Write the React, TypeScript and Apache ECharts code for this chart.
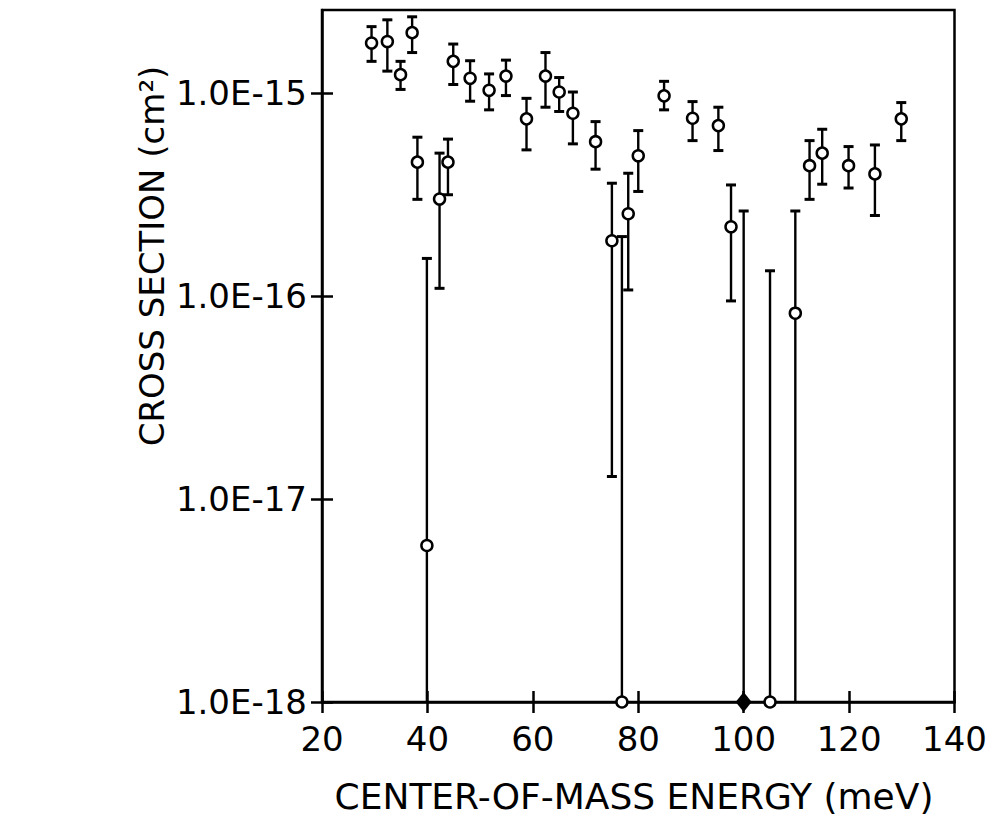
import React, { useEffect, useRef } from "react";
import * as echarts from "echarts";

// Log-axis range of the cross section (cm^2)
const AXIS_FLOOR = 1e-18;
const AXIS_TOP = 2.56e-15;

// Open-circle measurements: centre-of-mass energy (meV), cross section and error limits.
// A null lower limit means the error bar runs down past the axis floor.
const energy = [
  29.4, 32.4, 34.9, 37.1, 38.1, 39.9, 42.3, 43.9, 44.9, 48.1, 51.7, 54.9, 58.8,
  62.4, 65.0, 67.6, 71.9, 75.0, 76.9, 78.1, 80.0, 84.9, 90.3, 95.2, 97.6, 105.0,
  109.8, 112.5, 114.9, 119.9, 124.9, 129.9,
];
const sigma = [
  1.76e-15, 1.79e-15, 1.23e-15, 1.98e-15, 4.56e-16, 5.9e-18, 3.0e-16, 4.56e-16, 1.43e-15,
  1.18e-15, 1.03e-15, 1.21e-15, 7.45e-16, 1.21e-15, 1.01e-15, 7.94e-16, 5.75e-16, 1.87e-16,
  1e-18, 2.54e-16, 4.9e-16, 9.67e-16, 7.5e-16, 6.9e-16, 2.19e-16, 1e-18, 8.22e-17, 4.38e-16,
  5.05e-16, 4.38e-16, 3.99e-16, 7.45e-16,
];
const sigmaLow: (number | null)[] = [
  1.43e-15, 1.28e-15, 1.04e-15, 1.58e-15, 2.99e-16, null, 1.09e-16, 3.15e-16, 1.1e-15,
  9.1e-16, 8.25e-16, 9.7e-16, 5.24e-16, 8.5e-16, 8.1e-16, 5.61e-16, 4.21e-16, 1.29e-17,
  null, 1.07e-16, 3.27e-16, 8.25e-16, 5.82e-16, 5.2e-16, 9.45e-17, null, null, 2.99e-16,
  3.55e-16, 3.4e-16, 2.49e-16, 5.82e-16,
];
const sigmaHigh = [
  2.12e-15, 2.29e-15, 1.43e-15, 2.37e-15, 6.05e-16, 1.53e-16, 5.05e-16, 5.92e-16, 1.74e-15,
  1.44e-15, 1.24e-15, 1.45e-15, 9.4e-16, 1.58e-15, 1.19e-15, 1.01e-15, 7.22e-16, 3.59e-16,
  1.96e-16, 4.02e-16, 6.52e-16, 1.14e-15, 9.06e-16, 8.5e-16, 3.52e-16, 1.33e-16, 2.62e-16,
  5.82e-16, 6.62e-16, 5.44e-16, 5.54e-16, 8.96e-16,
];

// Filled-diamond measurement
const diamondEnergy = [100];
const diamondSigma = [1e-18];
const diamondLow: (number | null)[] = [null];
const diamondHigh = [2.62e-16];

const xTicks = [20, 40, 60, 80, 100, 120, 140];
const yTicks = [1e-18, 1e-17, 1e-16, 1e-15];

const FONT = "DejaVu Sans";

function errorRows(xs: number[], lows: (number | null)[], highs: number[]) {
  return xs.map((x, i) => [x, lows[i] ?? AXIS_FLOOR, highs[i], lows[i] == null ? 0 : 1]);
}

export default function App() {
  const ref = useRef<HTMLDivElement>(null);

  useEffect(() => {
    if (!ref.current) return;
    const chart = echarts.init(ref.current, null, { renderer: "svg" });

    const errData = [
      ...errorRows(energy, sigmaLow, sigmaHigh),
      ...errorRows(diamondEnergy, diamondLow, diamondHigh),
    ];

    const xMin = xTicks[0];
    const xMax = xTicks[xTicks.length - 1];
    const xStep = xTicks[1] - xTicks[0];

    // Ticks cross the frame: each axis draws them outward, a twin axis inward.
    const tickStyle = { show: true, color: "#000", width: 2.5, type: "solid", opacity: 1 };
    const TICK_LEN = 11;

    const option: any = {
      animation: false,
      backgroundColor: "#fff",
      grid: {
        left: 322,
        right: 43.5,
        top: 10,
        bottom: 120,
        show: true,
        borderColor: "#000",
        borderWidth: 2.5,
        backgroundColor: "transparent",
      },
      xAxis: [
        {
          type: "value",
          min: xMin,
          max: xMax,
          interval: xStep,
          axisLine: { show: true, lineStyle: { color: "#000", width: 2.5 } },
          axisTick: { show: true, inside: false, length: TICK_LEN, lineStyle: tickStyle },
          axisLabel: { show: true, margin: 20, color: "#000", fontFamily: FONT, fontSize: 34 },
          splitLine: { show: false },
        },
        {
          type: "value",
          position: "bottom",
          min: xMin,
          max: xMax,
          interval: xStep,
          axisLine: { show: false },
          axisTick: { show: true, inside: true, length: TICK_LEN, lineStyle: tickStyle },
          axisLabel: { show: false },
          splitLine: { show: false },
        },
      ],
      yAxis: [
        {
          type: "log",
          logBase: 10,
          min: AXIS_FLOOR,
          max: AXIS_TOP,
          axisLine: { show: true, lineStyle: { color: "#000", width: 2.5 } },
          axisTick: {
            show: true,
            inside: false,
            length: TICK_LEN,
            customValues: yTicks,
            lineStyle: tickStyle,
          },
          axisLabel: {
            show: true,
            customValues: yTicks,
            margin: 15,
            color: "#000",
            fontFamily: FONT,
            fontSize: 34,
            padding: [0, 0, 12, 0],
            formatter: (v: number) => `1.0E${Math.round(Math.log10(v))}`,
          },
          splitLine: { show: false },
        },
        {
          type: "log",
          logBase: 10,
          position: "left",
          min: AXIS_FLOOR,
          max: AXIS_TOP,
          axisLine: { show: false },
          axisTick: {
            show: true,
            inside: true,
            length: TICK_LEN,
            customValues: yTicks,
            lineStyle: tickStyle,
          },
          axisLabel: { show: false },
          splitLine: { show: false },
        },
      ],
      graphic: [
        {
          type: "text",
          x: 152,
          y: 256,
          rotation: Math.PI / 2,
          style: {
            text: "CROSS SECTION (cm²)",
            fontFamily: FONT,
            fontSize: 34,
            fill: "#000",
            align: "center",
            verticalAlign: "middle",
          },
        },
        {
          type: "text",
          x: 634,
          y: 796,
          style: {
            text: "CENTER-OF-MASS ENERGY (meV)",
            fontFamily: FONT,
            fontSize: 36,
            fill: "#000",
            align: "center",
            verticalAlign: "middle",
          },
        },
      ],
      series: [
        {
          type: "custom",
          xAxisIndex: 0,
          yAxisIndex: 0,
          z: 2,
          silent: true,
          encode: { x: 0, y: [1, 2] },
          data: errData,
          renderItem: (_params: any, api: any) => {
            const x = api.value(0);
            const lo = api.value(1);
            const hi = api.value(2);
            const capped = api.value(3);
            const pHi = api.coord([x, hi]);
            const pLo = api.coord([x, lo]);
            const stroke = { stroke: "#000", lineWidth: 2.4 };
            const cap = { stroke: "#000", lineWidth: 3 };
            const children: any[] = [
              { type: "line", shape: { x1: pHi[0], y1: pHi[1], x2: pLo[0], y2: pLo[1] }, style: stroke },
              { type: "line", shape: { x1: pHi[0] - 5, y1: pHi[1], x2: pHi[0] + 5, y2: pHi[1] }, style: cap },
            ];
            if (capped) {
              children.push({
                type: "line",
                shape: { x1: pLo[0] - 5, y1: pLo[1], x2: pLo[0] + 5, y2: pLo[1] },
                style: cap,
              });
            }
            return { type: "group", children };
          },
        },
        {
          type: "scatter",
          xAxisIndex: 0,
          yAxisIndex: 0,
          z: 3,
          symbol: "circle",
          symbolSize: 11,
          itemStyle: { color: "#fff", borderColor: "#000", borderWidth: 2.5, opacity: 1 },
          data: energy.map((e, i) => [e, sigma[i]]),
        },
        {
          type: "scatter",
          xAxisIndex: 0,
          yAxisIndex: 0,
          z: 3,
          symbol: "diamond",
          symbolSize: [16, 20],
          itemStyle: { color: "#000", opacity: 1 },
          data: diamondEnergy.map((e, i) => [e, diamondSigma[i]]),
        },
      ],
    };

    chart.setOption(option);
    return () => chart.dispose();
  }, []);

  return (
    <div
      ref={ref}
      style={{ position: "fixed", left: 0, top: 0, width: 998, height: 822, background: "#fff" }}
    />
  );
}
